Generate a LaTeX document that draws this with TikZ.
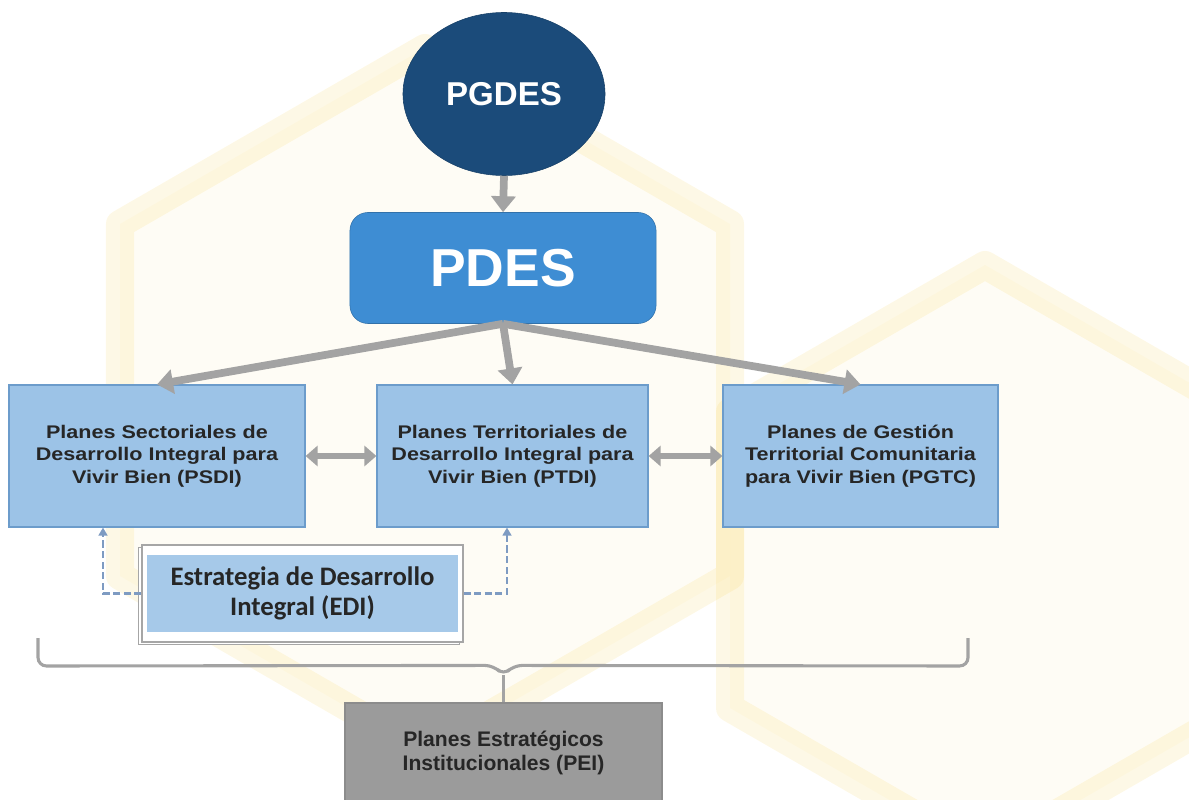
\documentclass[tikz,border=0pt]{standalone}
\usepackage{fontspec}
\setmainfont{Liberation Sans}
\newfontfamily\planfont[FakeStretch=1.18]{Liberation Sans}
\newfontfamily\edifont{Carlito}
\usetikzlibrary{arrows.meta,calc,shapes.geometric}

\definecolor{navy}{HTML}{1B4B7A}
\definecolor{pdesblue}{HTML}{3E8DD3}
\definecolor{boxblue}{HTML}{9CC3E7}
\definecolor{boxedge}{HTML}{6C9CCB}
\definecolor{arrgray}{HTML}{A3A3A3}
\definecolor{peigray}{HTML}{9B9B9B}
\definecolor{dashblue}{HTML}{7E9BC2}
\definecolor{hexyellow}{HTML}{F3C93A}

\begin{document}
\begin{tikzpicture}[x=0.025cm, y=-0.025cm,
    planbox/.style={draw=boxedge, line width=0.8pt, fill=boxblue, align=center,
      text=black!85, inner sep=0pt, minimum height=3.55cm,
      font=\planfont\bfseries\fontsize{13}{16}\selectfont},
    bigarrow/.style={draw=arrgray, line width=5.5pt,
      -{Triangle[width=0.6cm,length=0.4cm]}},
    twoway/.style={draw=arrgray, line width=4.5pt,
      {Triangle[width=0.5cm,length=0.3cm]}-{Triangle[width=0.5cm,length=0.3cm]}},
    edilink/.style={draw=dashblue, line width=2pt, dash pattern=on 5pt off 2.5pt,
      -{Triangle[width=0.22cm,length=0.2cm]}},
    edisheet/.style={draw=black!35, line width=0.8pt, fill=white,
      minimum width=8.025cm, minimum height=2.425cm},
    hexmark/.style={draw=hexyellow, draw opacity=0.13, line width=0.7cm,
      fill=hexyellow, fill opacity=0.05, line join=round}]

  \useasboundingbox (0,0) rectangle (1189,800);

  %%%%% watermark %%%%%
  \draw[hexmark] (425,48) -- (730,224) -- (730,576) -- (425,752) -- (120,576) -- (120,224) -- cycle;
  \draw[hexmark] (985,265) -- (1240,412) -- (1240,708) -- (985,855) -- (730,708) -- (730,412) -- cycle;

  %%%%% nodes %%%%%
  \node[ellipse, fill=navy, draw=navy!85!black, minimum width=5.05cm, minimum height=4.075cm,
    text=white, font=\bfseries\fontsize{23.5}{26}\selectfont] (pgdes) at (504,94) {PGDES};

  \node[rectangle, rounded corners=0.45cm, fill=pdesblue, draw=pdesblue!80!black,
    minimum width=7.65cm, minimum height=2.775cm, text=white,
    font=\bfseries\fontsize{38}{42}\selectfont] (pdes) at (503,268) {PDES};

  \node[planbox, minimum width=7.4cm] (psdi) at (157,456)
    {Planes Sectoriales de\\Desarrollo Integral para\\Vivir Bien (PSDI)};
  \node[planbox, minimum width=6.775cm] (ptdi) at (512.5,456)
    {Planes Territoriales de\\Desarrollo Integral para\\Vivir Bien (PTDI)};
  \node[planbox, minimum width=6.875cm] (pgtc) at (860.5,456)
    {Planes de Gesti\'on\\Territorial Comunitaria\\para Vivir Bien (PGTC)};

  \node[edisheet] (ediback) at (299,596) {};
  \node[edisheet] (ediframe) at (302.5,593.5) {};
  \node[fill=boxblue!90, minimum width=7.775cm, minimum height=1.925cm, align=center,
    text=black!85, font=\edifont\bfseries\fontsize{19}{21.5}\selectfont] (edi) at (302.5,593.5)
    {Estrategia de Desarrollo\\Integral (EDI)};

  \node[fill=peigray, draw=black!45, line width=0.8pt, minimum width=7.925cm,
    minimum height=2.5cm, align=center, text=black!85,
    font=\bfseries\fontsize{15}{16.5}\selectfont] (pei) at (503.5,753)
    {Planes Estrat\'egicos\\Institucionales (PEI)};

  %%%%% connectors %%%%%
  \draw[bigarrow] (pgdes.south) -- (pdes.north);
  \draw[bigarrow] (pdes.south) -- (psdi.north);
  \draw[bigarrow] (pdes.south) -- (ptdi.north);
  \draw[bigarrow] (pdes.south) -- (pgtc.north);

  \draw[twoway] (psdi.east) -- (ptdi.west);
  \draw[twoway] (ptdi.east) -- (pgtc.west);

  \draw[edilink] (ediframe.west) -| ($(psdi.south)+(-54,0)$);
  \draw[edilink] (ediframe.east) -| ($(ptdi.south)+(-5.5,0)$);

  % brace over the three plans
  \coordinate (bracetip) at ($(pei.north)+(0,-27)$);
  \draw[arrgray, line width=2.2pt, rounded corners=6pt]
    (38,638) -- (38,666) -- ($(bracetip)+(-10,-10)$) -- (bracetip)
    -- ($(bracetip)+(10,-10)$) -- (968,666) -- (968,638);
  \draw[arrgray, line width=2.2pt] (bracetip) -- (pei.north);

\end{tikzpicture}
\end{document}
